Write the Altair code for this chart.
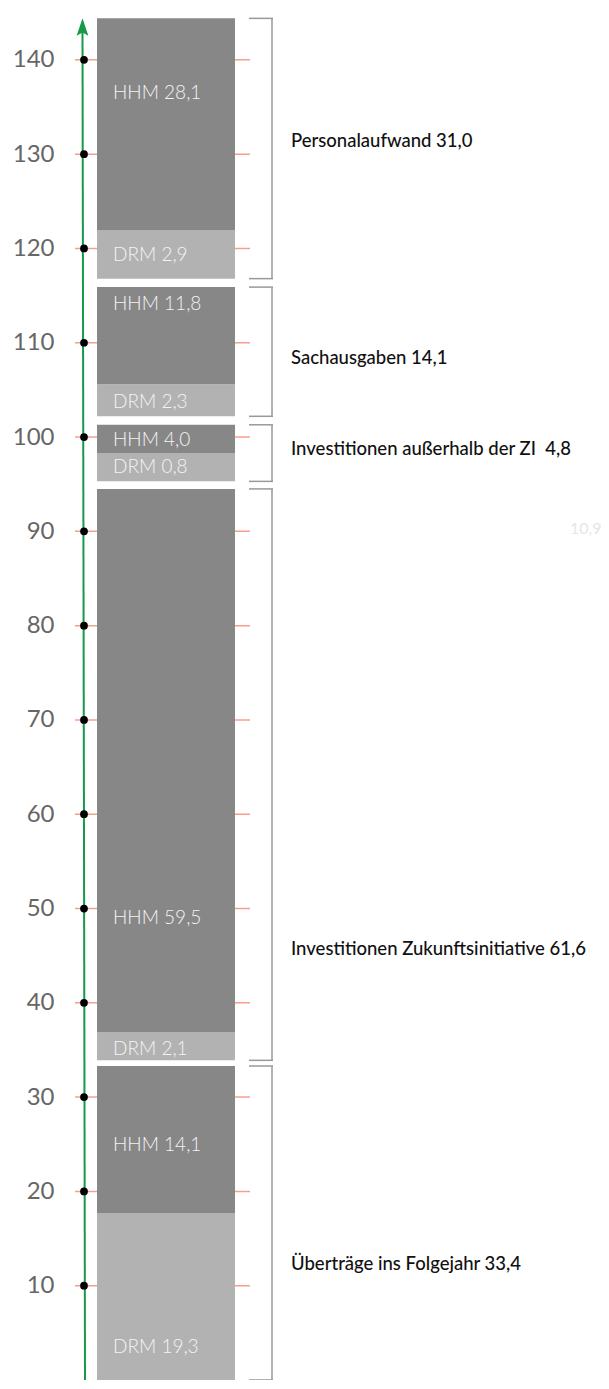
import altair as alt
import pandas as pd

# ---------------- data ----------------
groups = ["Personalaufwand", "Sachausgaben", "Investitionen außerhalb der ZI",
          "Investitionen Zukunftsinitiative", "Überträge ins Folgejahr"]
group_totals = [31.0, 14.1, 4.8, 61.6, 33.4]
hhm_values = [28.1, 11.8, 4.0, 59.5, 14.1]
drm_values = [2.9, 2.3, 0.8, 2.1, 19.3]
# bar extents as drawn in the picture
drawn_base = [116.8, 102.2, 95.3, 33.9, 0.0]
drawn_drm = [5.1, 3.4, 3.0, 3.0, 17.7]
drawn_hhm = [22.5, 10.3, 3.0, 57.6, 15.6]
axis_ticks = [10, 20, 30, 40, 50, 60, 70, 80, 90, 100, 110, 120, 130, 140]
stray_labels = ["10,9"]
stray_at = [90.3]

# ---------------- layout (not data) ----------------
hhm_label_frac = [0.65, 0.83, 0.45, 0.21, 0.46]
drm_label_frac = [0.5, 0.45, 0.5, 0.4, 0.2]
group_label_frac = [0.53, 0.45, 0.57, 0.195, 0.37]
FONT = "Lato"


def de(v):
    return f"{v:.1f}".replace(".", ",")


seg_rows, grp_rows = [], []
for i, g in enumerate(groups):
    b = drawn_base[i]
    d_hi = b + drawn_drm[i]
    h_hi = d_hi + drawn_hhm[i]
    seg_rows.append(dict(group=g, part="DRM", low=b, high=d_hi,
                         label=f"DRM {de(drm_values[i])}",
                         ly=b + drm_label_frac[i] * (d_hi - b)))
    seg_rows.append(dict(group=g, part="HHM", low=d_hi, high=h_hi,
                         label=f"HHM {de(hhm_values[i])}",
                         ly=d_hi + hhm_label_frac[i] * (h_hi - d_hi)))
    sep = "\u00a0 " if "außerhalb" in g else " "
    grp_rows.append(dict(group=g, low=b, high=h_hi,
                         label=f"{g}{sep}{de(group_totals[i])}",
                         ly=b + group_label_frac[i] * (h_hi - b)))

seg = pd.DataFrame(seg_rows)
grp = pd.DataFrame(grp_rows)
ticks = pd.DataFrame({"v": axis_ticks})
stray = pd.DataFrame({"t": stray_labels, "v": stray_at})
one = pd.DataFrame({"a": [0]})

yscale = alt.Scale(domain=[0, 145.5], nice=False, zero=False)
yaxis = alt.Axis(values=axis_ticks, domain=False, ticks=False, grid=False,
                 labelFontSize=24, labelColor="#666666", labelFont=FONT,
                 labelFontWeight=400, labelPadding=29, title=None)


def Y(field):
    return alt.Y(field, type="quantitative", scale=yscale, axis=yaxis)


tick_rules = alt.Chart(ticks).mark_rule(color="#f4a08c", strokeWidth=1.5).encode(
    x=alt.value(-8), x2=alt.value(167), y=Y("v"))

bars = alt.Chart(seg).mark_bar().encode(
    x=alt.value(14), x2=alt.value(152), y=Y("low"), y2="high",
    color=alt.Color("part:N", scale=alt.Scale(domain=["HHM", "DRM"],
                                              range=["#878787", "#b2b2b2"]),
                    legend=None))

bar_text = alt.Chart(seg).mark_text(align="left", baseline="middle",
                                    fontSize=19, font=FONT, fontWeight=300,
                                    color="#f4f4f4").encode(
    x=alt.value(30), y=Y("ly"), text="label:N")

br_v = alt.Chart(grp).mark_rule(color="#999999", strokeWidth=1.5).encode(
    x=alt.value(189), y=Y("low"), y2="high")
br_top = alt.Chart(grp).mark_rule(color="#999999", strokeWidth=1.5).encode(
    x=alt.value(166), x2=alt.value(190), y=Y("high"))
br_bot = alt.Chart(grp).mark_rule(color="#999999", strokeWidth=1.5).encode(
    x=alt.value(166), x2=alt.value(190), y=Y("low"))

green = alt.Chart(one).mark_rule(color="#169a48", strokeWidth=2).encode(
    x=alt.value(-0.5), y=alt.value(24), x2=alt.value(2), y2=alt.value(1372))

arrow = alt.Chart(one).mark_point(
    shape="M0,-1L0.6,0.8L0,0.45L-0.6,0.8Z", filled=True, opacity=1,
    color="#169a48", size=380).encode(x=alt.value(-0.5), y=alt.value(20))

dots = alt.Chart(ticks).mark_circle(color="#000000", size=60, opacity=1).encode(
    x=alt.value(1), y=Y("v"))

grp_text = alt.Chart(grp).mark_text(align="left", baseline="middle", fontSize=18.5,
                                    font=FONT, fontWeight=500,
                                    color="#111111").encode(
    x=alt.value(208), y=Y("ly"), text="label:N")

stray_text = alt.Chart(stray).mark_text(align="left", baseline="middle",
                                        fontSize=16, font=FONT,
                                        color="#e6e6e6").encode(
    x=alt.value(487), y=Y("v"), text="t:N")

chart = alt.layer(tick_rules, bars, bar_text, br_v, br_top, br_bot, green,
                  dots, arrow, grp_text, stray_text).properties(
    width=518, height=1372,
    autosize=alt.AutoSizeParams(type="none"),
    padding={"left": 75, "top": 0, "right": 0, "bottom": 0},
).configure_view(stroke=None)

chart.save("out.html", embed_options={"renderer": "svg", "actions": False})
